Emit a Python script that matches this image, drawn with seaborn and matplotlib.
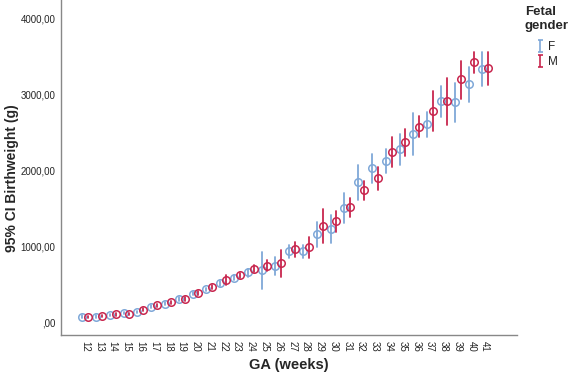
import numpy as np
import pandas as pd
import seaborn as sns
import matplotlib
matplotlib.use("Agg")
import matplotlib.pyplot as plt
from matplotlib.lines import Line2D
from matplotlib.path import Path

weeks = list(range(12, 42))
f_mean = [83, 83, 101, 127, 145, 215, 250, 316, 382, 439, 518, 592, 667, 697, 754,
          947, 951, 1167, 1237, 1513, 1851, 2035, 2127, 2289, 2482, 2614, 2925, 2908, 3145, 3342]
f_lo = [65, 68, 85, 110, 128, 195, 230, 292, 360, 415, 490, 560, 610, 451, 632,
        851, 860, 1004, 1048, 1311, 1618, 1838, 1969, 2079, 2211, 2443, 2715, 2641, 2912, 3118]
f_hi = [100, 98, 117, 144, 162, 235, 270, 340, 404, 463, 546, 624, 715, 938, 873,
        1026, 1026, 1333, 1421, 1715, 2079, 2219, 2285, 2487, 2759, 2772, 3123, 3162, 3364, 3570]
m_mean = [75, 92, 110, 118, 171, 232, 268, 311, 395, 474, 566, 627, 715, 754, 785,
          969, 1000, 1276, 1342, 1522, 1746, 1904, 2254, 2386, 2583, 2794, 2921, 3206, 3430, 3351]
m_lo = [60, 76, 94, 100, 152, 212, 246, 288, 372, 450, 500, 592, 675, 680, 609,
        873, 860, 1048, 1201, 1399, 1618, 1750, 2057, 2202, 2443, 2530, 2605, 2947, 3285, 3132]
m_hi = [90, 108, 126, 136, 190, 252, 290, 334, 418, 498, 632, 662, 755, 830, 961,
        1062, 1136, 1500, 1478, 1640, 1868, 2057, 2452, 2553, 2724, 3057, 3220, 3447, 3570, 3570]
genders = ["F", "M"]
colors = {"F": "#7fa8d8", "M": "#c8264e"}

rows = []
for g, mn, lo, hi in [("F", f_mean, f_lo, f_hi), ("M", m_mean, m_lo, m_hi)]:
    for w, a, b, c in zip(weeks, mn, lo, hi):
        for v in (b, a, c):
            rows.append({"GA": str(w), "gender": g, "w": v})
df = pd.DataFrame(rows)

sns.set_style("white")
plt.rcParams['font.family'] = ['Liberation Sans', 'DejaVu Sans']

fig = plt.figure(figsize=(5.68, 3.74), dpi=100)
ax = fig.add_axes([61/568, 1-335/374, (517-61)/568, 335/374])

sns.pointplot(data=df, x="GA", y="w", hue="gender", hue_order=genders,
              order=[str(w) for w in weeks], palette=colors,
              estimator="median", errorbar=lambda v: (v.min(), v.max()),
              dodge=0.42, linestyle="none", markers="o", capsize=0,
              markerfacecolor="none", markersize=5.4, markeredgewidth=1.1,
              err_kws={"linewidth": 1.3}, legend=False, ax=ax)

ax.set_ylim(-160, 4250)
ax.set_xlim(-1.75, 31.3)
ax.set_yticks([0, 1000, 2000, 3000, 4000])
ax.set_yticklabels([",00", "1000,00", "2000,00", "3000,00", "4000,00"], fontsize=7)
ax.tick_params(axis="x", labelsize=7, rotation=-90, length=0, pad=4)
ax.tick_params(axis="y", length=0, pad=4)
for s in ["top", "right"]:
    ax.spines[s].set_visible(False)
for s in ["left", "bottom"]:
    ax.spines[s].set_color("#888888")
    ax.spines[s].set_linewidth(1.0)
ax.set_xlabel("GA (weeks)", fontsize=10.5, fontweight="bold")
ax.set_ylabel("95% CI Birthweight (g)", fontsize=10, fontweight="bold")
ax.xaxis.set_label_coords(0.5, (335 - 365) / 335)
ax.xaxis.label.set_va("center")
ax.yaxis.set_label_coords((12 - 61) / 456, (335 - 178) / 335)
ax.yaxis.label.set_va("center")
ax.grid(False)

ibar = Path([(0, -1), (0, 1), (-0.45, 1), (0.45, 1), (-0.45, -1), (0.45, -1)],
            [Path.MOVETO, Path.LINETO, Path.MOVETO, Path.LINETO, Path.MOVETO, Path.LINETO])
handles = [Line2D([], [], linestyle="none", marker=ibar, markersize=8,
                  markeredgewidth=1.2, color=colors[g]) for g in genders]
leg = fig.legend(handles, genders, title="Fetal\ngender", loc="upper left",
                 bbox_to_anchor=(519/568, 1.0), frameon=False, fontsize=8.5,
                 handlelength=0.8, handletextpad=0.3, labelspacing=0.25,
                 borderpad=0.3, borderaxespad=0.2,
                 title_fontproperties={"weight": "bold", "size": 9.5})
leg._legend_box.align = "center"
leg._legend_box.sep = 7

fig.savefig("out.png", dpi=100)
